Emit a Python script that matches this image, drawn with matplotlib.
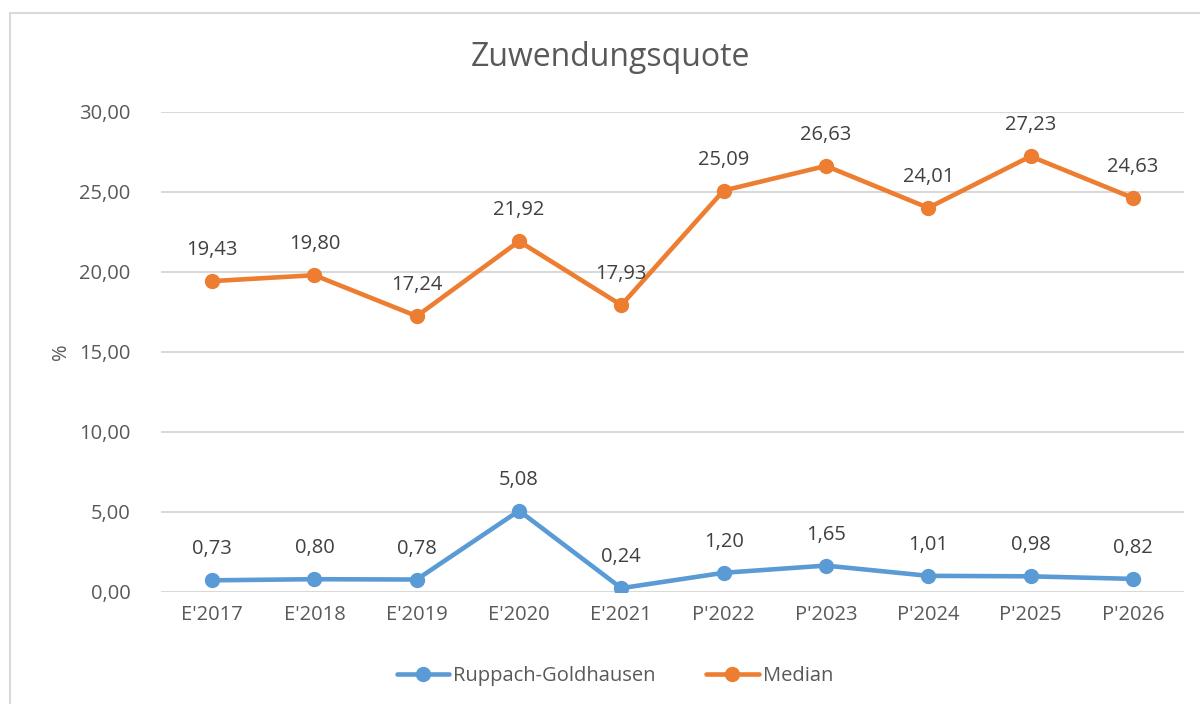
import matplotlib.pyplot as plt
from matplotlib.patches import Rectangle

plt.rcParams['font.family'] = ['Open Sans', 'DejaVu Sans']

years = ["E'2017", "E'2018", "E'2019", "E'2020", "E'2021",
         "P'2022", "P'2023", "P'2024", "P'2025", "P'2026"]
ruppach = [0.73, 0.80, 0.78, 5.08, 0.24, 1.20, 1.65, 1.01, 0.98, 0.82]
median = [19.43, 19.80, 17.24, 21.92, 17.93, 25.09, 26.63, 24.01, 27.23, 24.63]

blue = '#5B9BD5'
orange = '#ED7D31'
txt = '#595959'

fig = plt.figure(figsize=(12, 7.04), dpi=100)
# chart border
fig.patches.append(Rectangle((10 / 1200, -0.1), 1.2, 1 - 13 / 704 + 0.1,
                             transform=fig.transFigure, fill=False,
                             edgecolor='#D9D9D9', linewidth=1.5))

ax = fig.add_axes([161 / 1200, 1 - 592 / 704, 1023 / 1200, 480 / 704])
x = range(len(years))

def fmt(v):
    return f"{v:.2f}".replace('.', ',')

for vals, col, name in [(ruppach, blue, 'Ruppach-Goldhausen'), (median, orange, 'Median')]:
    ax.plot(x, vals, color=col, linewidth=3.3, marker='o', markersize=10,
            label=name, solid_capstyle='round', zorder=3)
    for i, v in zip(x, vals):
        ax.annotate(fmt(v), (i, v), xytext=(0, 15), textcoords='offset points',
                    ha='center', va='bottom', fontsize=14.5, color='#404040')

ax.set_xlim(-0.5, len(years) - 0.5)
ax.set_ylim(0, 30)
ax.set_yticks(range(0, 31, 5))
ax.set_yticklabels([fmt(t) for t in range(0, 31, 5)])
ax.set_xticks(list(x))
ax.set_xticklabels(years)
ax.tick_params(length=0, labelsize=14.5, labelcolor=txt, pad=9)
ax.tick_params(axis='y', pad=22)
ax.grid(axis='y', color='#D9D9D9', linewidth=1.5)
ax.set_axisbelow(True)
for s in ax.spines.values():
    s.set_visible(False)

ax.set_ylabel('%', fontsize=14.5, color=txt, labelpad=6)
fig.text(610 / 1200, 1 - 58 / 704, 'Zuwendungsquote', ha='center', va='center',
         fontsize=23, color=txt)

fig.legend(loc='center', bbox_to_anchor=(615 / 1200, 1 - 676 / 704), ncol=2,
           frameon=False, fontsize=14.5, labelcolor=txt, handlelength=2.6,
           columnspacing=2.5, handletextpad=0.2)

fig.savefig('out.png', dpi=100)
